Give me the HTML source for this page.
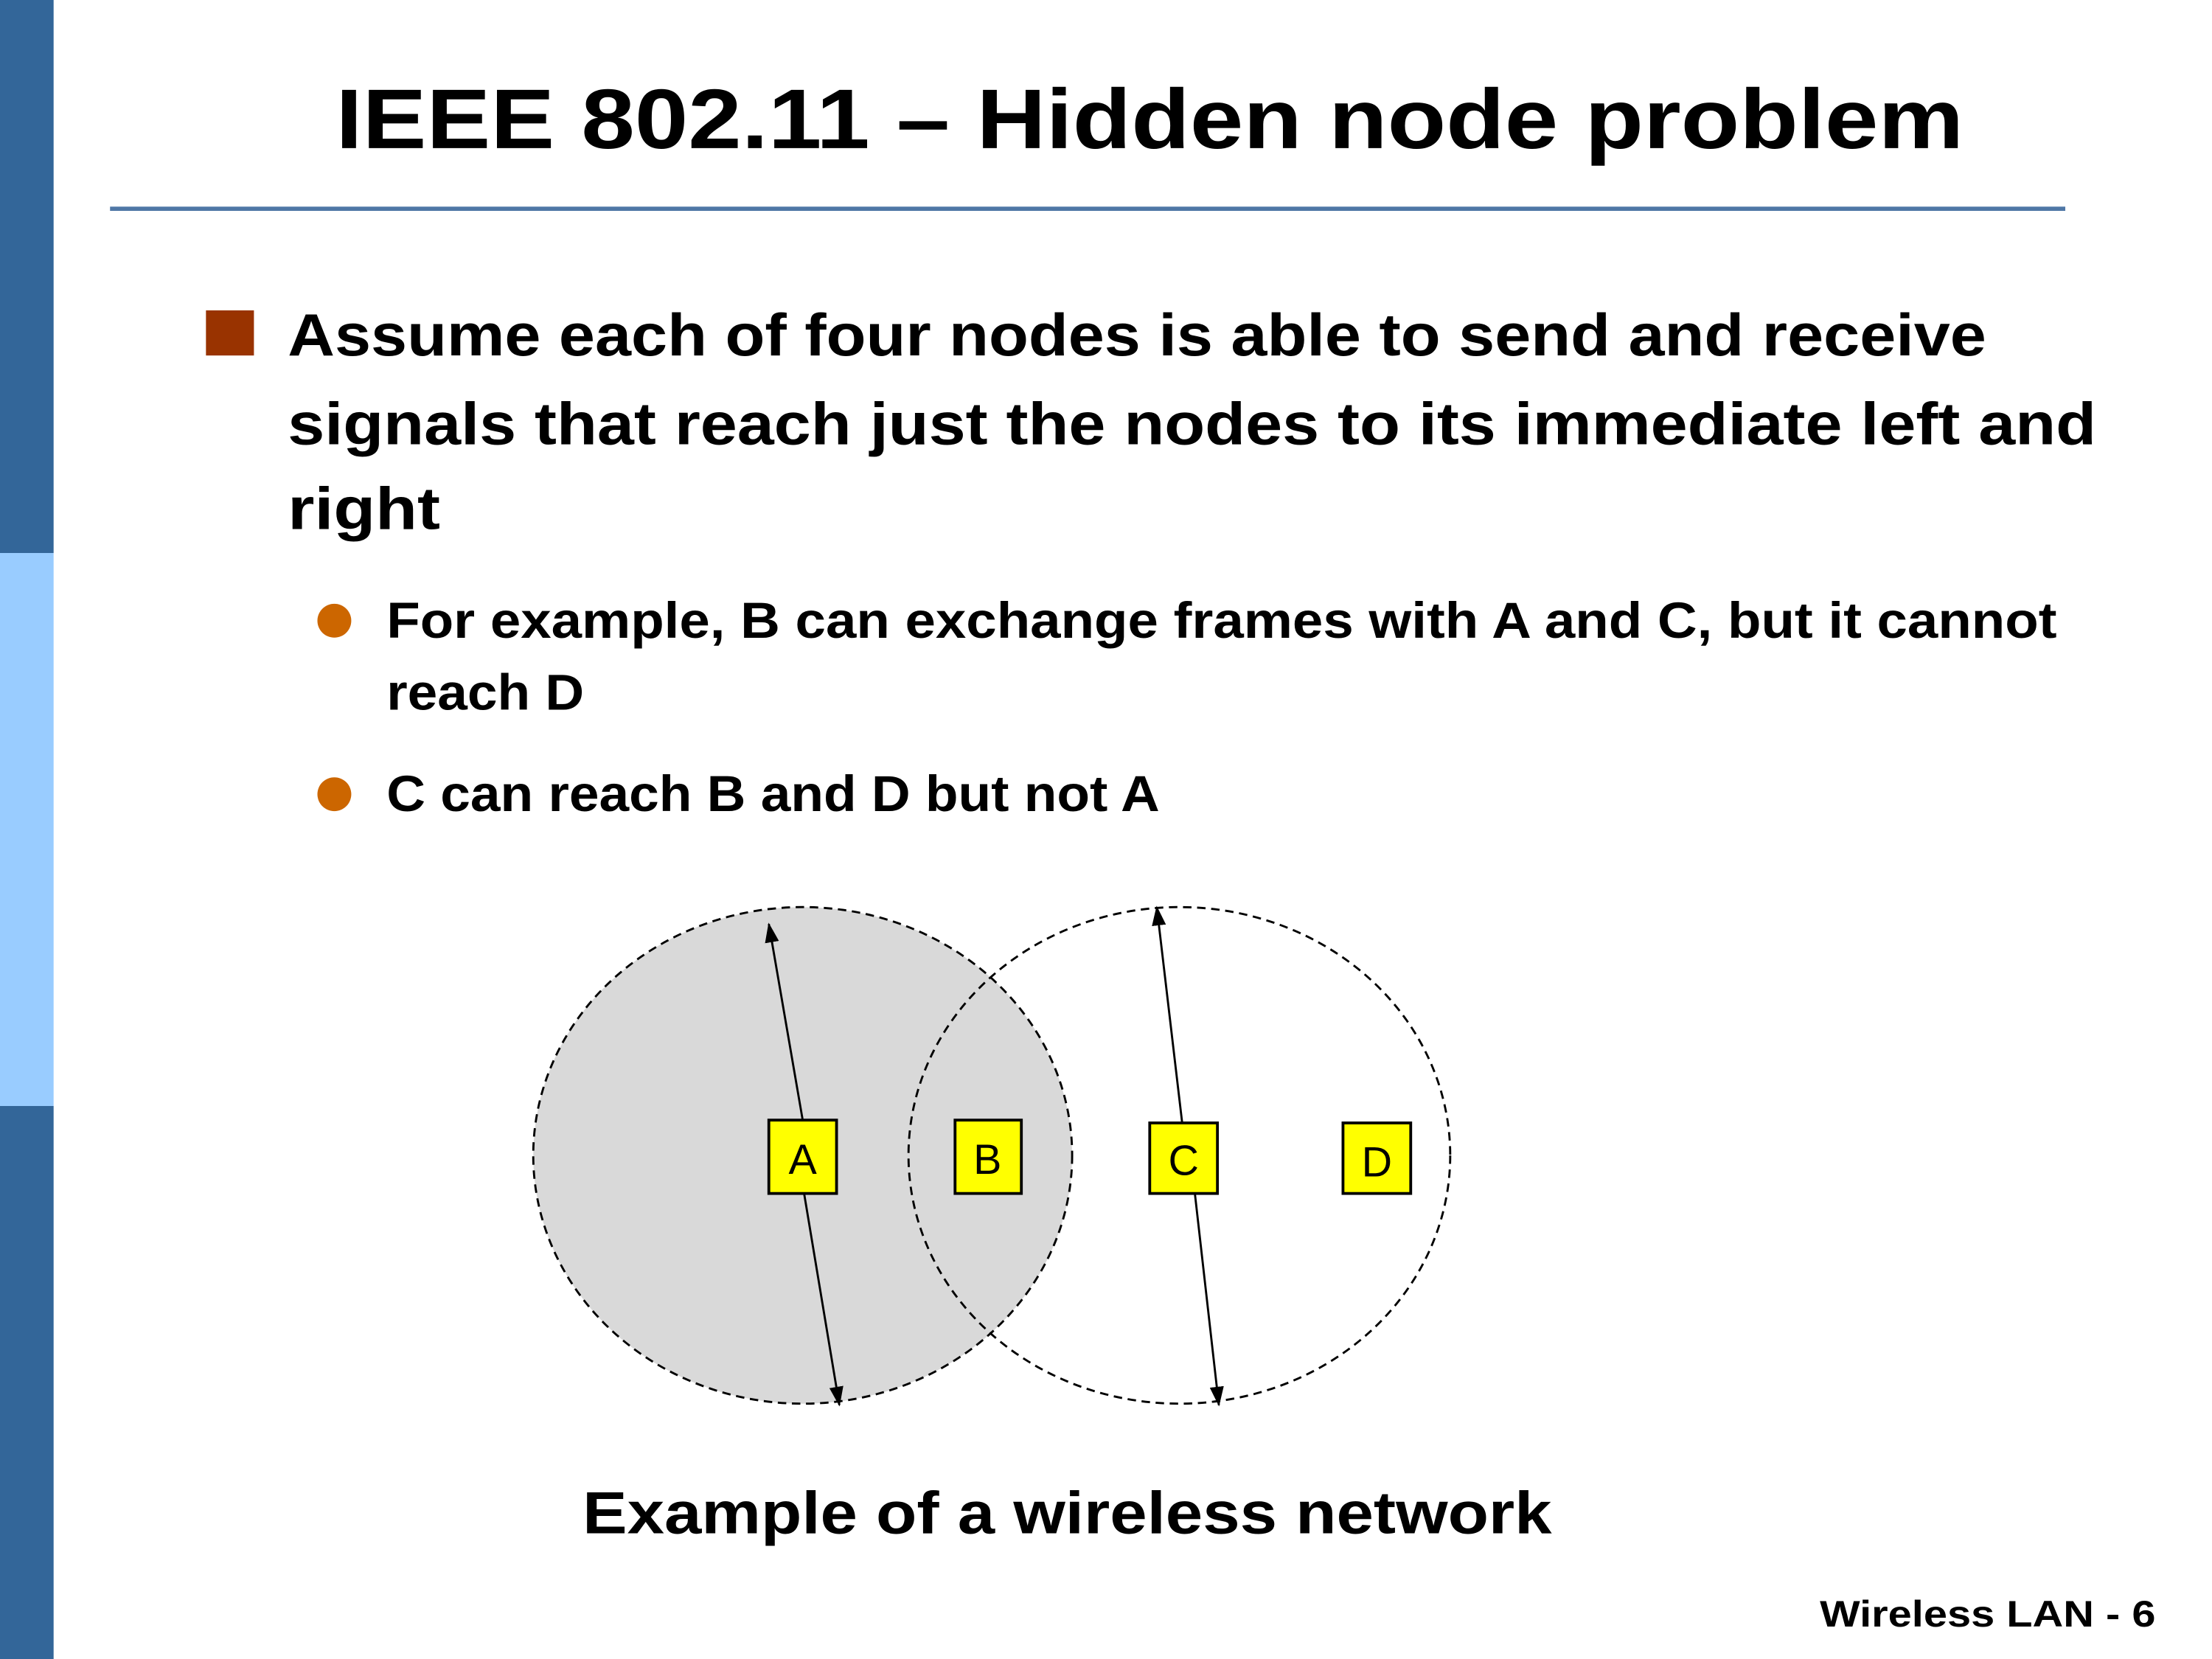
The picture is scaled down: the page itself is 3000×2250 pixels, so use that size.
<!DOCTYPE html>
<html><head><meta charset="utf-8"><style>html,body{margin:0;padding:0;background:#fff}svg{display:block}</style></head>
<body>
<svg width="3000" height="2250" viewBox="0 0 1568 1176" preserveAspectRatio="none" xmlns="http://www.w3.org/2000/svg" font-family="Liberation Sans, sans-serif">
<defs><marker id="ah" markerWidth="14" markerHeight="10" refX="13" refY="5" orient="auto" markerUnits="userSpaceOnUse"><path d="M0,0 L14,5 L0,10 z" fill="#000"/></marker></defs>
<rect x="0" y="0" width="38" height="392" fill="#336699"/>
<rect x="0" y="392" width="38" height="392" fill="#99ccff"/>
<rect x="0" y="784" width="38" height="392" fill="#336699"/>
<text x="238" y="105" font-size="60" font-weight="bold" textLength="1154" lengthAdjust="spacingAndGlyphs">IEEE 802.11 – Hidden node problem</text>
<line x1="78" y1="148" x2="1464" y2="148" stroke="#4f77a6" stroke-width="3"/>
<rect x="146" y="220" width="34" height="32" fill="#993300"/>
<g font-size="42" font-weight="bold" fill="#000">
<text x="204" y="252" textLength="1204" lengthAdjust="spacingAndGlyphs">Assume each of four nodes is able to send and receive</text>
<text x="204" y="315" textLength="1282" lengthAdjust="spacingAndGlyphs">signals that reach just the nodes to its immediate left and</text>
<text x="204" y="375" textLength="108" lengthAdjust="spacingAndGlyphs">right</text>
</g>
<circle cx="237" cy="440" r="12" fill="#cc6600"/>
<circle cx="237" cy="563" r="12" fill="#cc6600"/>
<g font-size="36" font-weight="bold" fill="#000">
<text x="274" y="452" textLength="1184" lengthAdjust="spacingAndGlyphs">For example, B can exchange frames with A and C, but it cannot</text>
<text x="274" y="503" textLength="140" lengthAdjust="spacingAndGlyphs">reach D</text>
<text x="274" y="575" textLength="548" lengthAdjust="spacingAndGlyphs">C can reach B and D but not A</text>
</g>
<ellipse cx="569" cy="819" rx="191" ry="176" fill="#d9d9d9" stroke="#000" stroke-width="1.5" stroke-dasharray="6,4"/>
<ellipse cx="836" cy="819" rx="192" ry="176" fill="none" stroke="#000" stroke-width="1.5" stroke-dasharray="6,4"/>
<g stroke="#000" stroke-width="1.5" marker-end="url(#ah)">
<line x1="569" y1="794" x2="545" y2="655"/>
<line x1="570" y1="846" x2="595" y2="996"/>
<line x1="838" y1="796" x2="820" y2="643"/>
<line x1="847" y1="846" x2="864" y2="996"/>
</g>
<g fill="#ffff00" stroke="#000" stroke-width="2">
<rect x="545" y="794" width="48" height="52"/>
<rect x="677" y="794" width="47" height="52"/>
<rect x="815" y="796" width="48" height="50"/>
<rect x="952" y="796" width="48" height="50"/>
</g>
<g font-size="30" text-anchor="middle" fill="#000">
<text x="569" y="832">A</text>
<text x="700" y="832">B</text>
<text x="839" y="833">C</text>
<text x="976" y="834">D</text>
</g>
<text x="413" y="1087" font-size="42" font-weight="bold" textLength="687" lengthAdjust="spacingAndGlyphs">Example of a wireless network</text>
<text x="1290" y="1153" font-size="26" font-weight="bold" textLength="238" lengthAdjust="spacingAndGlyphs">Wireless LAN - 6</text>
</svg>
</body></html>
